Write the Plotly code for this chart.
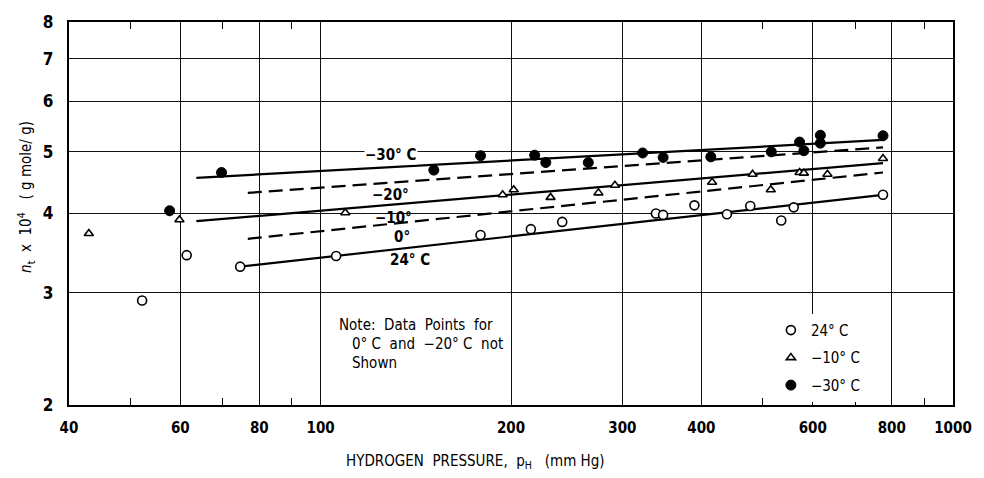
import numpy as np
import plotly.graph_objects as go

# ---- data ----
p_24 = [52.2, 61.4, 74.6, 105.8, 179, 215, 241, 339, 348, 390, 439, 478, 535, 560, 775]
n_24 = [2.92, 3.44, 3.30, 3.43, 3.70, 3.78, 3.88, 4.00, 3.98, 4.12, 3.99, 4.11, 3.90, 4.09, 4.28]

p_m10 = [43.0, 59.8, 109.4, 194, 202, 231, 275, 292, 416, 482, 515, 572, 581, 633, 775]
n_m10 = [3.72, 3.91, 4.01, 4.28, 4.36, 4.24, 4.31, 4.43, 4.48, 4.61, 4.36, 4.64, 4.63, 4.61, 4.88]

p_m30 = [57.7, 69.7, 151, 179, 218, 227, 265, 323, 348, 414, 516, 572, 581, 617, 617, 775]
n_m30 = [4.04, 4.64, 4.68, 4.93, 4.94, 4.81, 4.81, 4.98, 4.90, 4.91, 5.00, 5.18, 5.02, 5.31, 5.16, 5.30]

# fitted lines (end points)
fit_names = ["-30", "-20", "-10", "0", "24"]
fit_p = [[63.6, 775], [76.7, 775], [63.6, 775], [76.7, 775], [74.6, 775]]
fit_n = [[4.55, 5.22], [4.31, 5.08], [3.89, 4.80], [3.65, 4.64], [3.30, 4.28]]
fit_dash = ["solid", "14px,7px", "solid", "14px,7px", "solid"]

# line labels
label_text = ["\u221230\u00b0 C", "\u221220\u00b0", "\u221210\u00b0", "0\u00b0", "24\u00b0 C"]
label_p = [129, 129, 130.2, 134.5, 138.4]
label_n = [4.94, 4.28, 3.94, 3.68, 3.38]

x_tickvals = [40, 60, 80, 100, 200, 300, 400, 600, 800, 1000]
x_minor = [50, 70, 90, 500, 700, 900]
y_tickvals = [2, 3, 4, 5, 6, 7, 8]

FONT = "Liberation Sans Narrow, DejaVu Sans Condensed, Liberation Sans, sans-serif"

fig = go.Figure()

for nm, px_, nn, ds in zip(fit_names, fit_p, fit_n, fit_dash):
    fig.add_trace(go.Scatter(x=px_, y=nn, mode="lines", showlegend=False,
                             line=dict(color="black", width=2.2, dash=ds),
                             hoverinfo="skip"))

fig.add_trace(go.Scatter(x=p_24, y=n_24, mode="markers", name="24\u00b0 C",
                         legendgroup="a",
                         marker=dict(symbol="circle", size=9, color="white",
                                     line=dict(color="black", width=1.6))))
fig.add_trace(go.Scatter(x=p_m10, y=n_m10, mode="markers", name="\u221210\u00b0 C",
                         legendgroup="b",
                         marker=dict(symbol="triangle-up", size=8, color="white",
                                     line=dict(color="black", width=1.6))))
fig.add_trace(go.Scatter(x=p_m30, y=n_m30, mode="markers", name="\u221230\u00b0 C",
                         legendgroup="c",
                         marker=dict(symbol="circle", size=10, color="black",
                                     line=dict(color="black", width=1))))
# invisible trace to carry the top (mirrored) x axis with its minor ticks
fig.add_trace(go.Scatter(x=[p_24[0]], y=[n_24[0]], xaxis="x2", mode="markers",
                         marker=dict(opacity=0), showlegend=False, hoverinfo="skip"))

for t, lp, ln in zip(label_text, label_p, label_n):
    fig.add_annotation(x=float(np.log10(lp)), y=float(np.log10(ln)), text=t,
                       showarrow=False, xref="x", yref="y",
                       font=dict(family=FONT, size=15, color="black", weight="bold"),
                       bgcolor="white" if t.startswith("\u221230") else "rgba(0,0,0,0)",
                       borderpad=0)

# note
note_lines = ["Note:\u00a0 Data\u00a0 Points\u00a0 for",
              "0\u00b0 C\u00a0 and\u00a0 \u221220\u00b0 C\u00a0 not",
              "Shown"]
note_x = [0.3031, 0.3177, 0.3177]
note_y = [0.2097, 0.1586, 0.110]
for t, nx, ny in zip(note_lines, note_x, note_y):
    fig.add_annotation(x=nx, y=ny, xref="paper", yref="paper", text=t,
                       showarrow=False, xanchor="left", yanchor="middle",
                       font=dict(family=FONT, size=15, color="black"))

# axis titles
fig.add_annotation(x=0.4597, y=-0.148, xref="paper", yref="paper",
                   text="HYDROGEN\u00a0 PRESSURE,\u00a0 p<sub>H</sub>\u00a0\u00a0 (mm Hg)",
                   showarrow=False, xanchor="center", yanchor="middle",
                   font=dict(family=FONT, size=15, color="black"))
fig.add_annotation(x=-0.0492, y=0.542, xref="paper", yref="paper",
                   text="<i>n</i><sub>t</sub>\u00a0 x\u00a0 10<sup>4</sup>\u00a0\u00a0 ( g mole/ g)",
                   showarrow=False, textangle=-90, xanchor="center", yanchor="middle",
                   font=dict(family=FONT, size=15, color="black"))

xr = [np.log10(40), np.log10(1000)]
fig.update_layout(
    xaxis=dict(type="log", range=xr,
               tickvals=x_tickvals, ticktext=[str(v) for v in x_tickvals],
               showgrid=True, gridcolor="#111", gridwidth=1.2,
               showline=True, linecolor="black", linewidth=2.2, mirror=True,
               ticks="", ticklabelstandoff=8,
               minor=dict(tickvals=x_minor, ticks="inside", ticklen=7,
                          tickwidth=1.3, tickcolor="black", showgrid=False),
               tickfont=dict(family=FONT, size=15, color="black", weight="bold"),
               zeroline=False),
    xaxis2=dict(type="log", range=xr, overlaying="x", side="top",
                showgrid=False, showline=False, showticklabels=False,
                tickvals=[], ticks="",
                minor=dict(tickvals=x_minor, ticks="inside", ticklen=7,
                           tickwidth=1.3, tickcolor="black", showgrid=False),
                zeroline=False),
    yaxis=dict(type="log", range=[np.log10(2), np.log10(8)],
               tickvals=y_tickvals, ticktext=[str(v) for v in y_tickvals],
               showgrid=True, gridcolor="#111", gridwidth=1.2,
               showline=True, linecolor="black", linewidth=2.2, mirror=True,
               ticks="", ticklabelstandoff=10,
               tickfont=dict(family=FONT, size=17, color="black", weight="bold"),
               zeroline=False),
    width=984, height=478,
    margin=dict(l=69, r=21, t=14, b=73),
    plot_bgcolor="white", paper_bgcolor="white",
    showlegend=True,
    legend=dict(x=0.794, y=0.238, xanchor="left", yanchor="top",
                bgcolor="white", borderwidth=0,
                traceorder="grouped", tracegroupgap=5,
                font=dict(family=FONT, size=15, color="black")))

fig.write_html("out.html")
